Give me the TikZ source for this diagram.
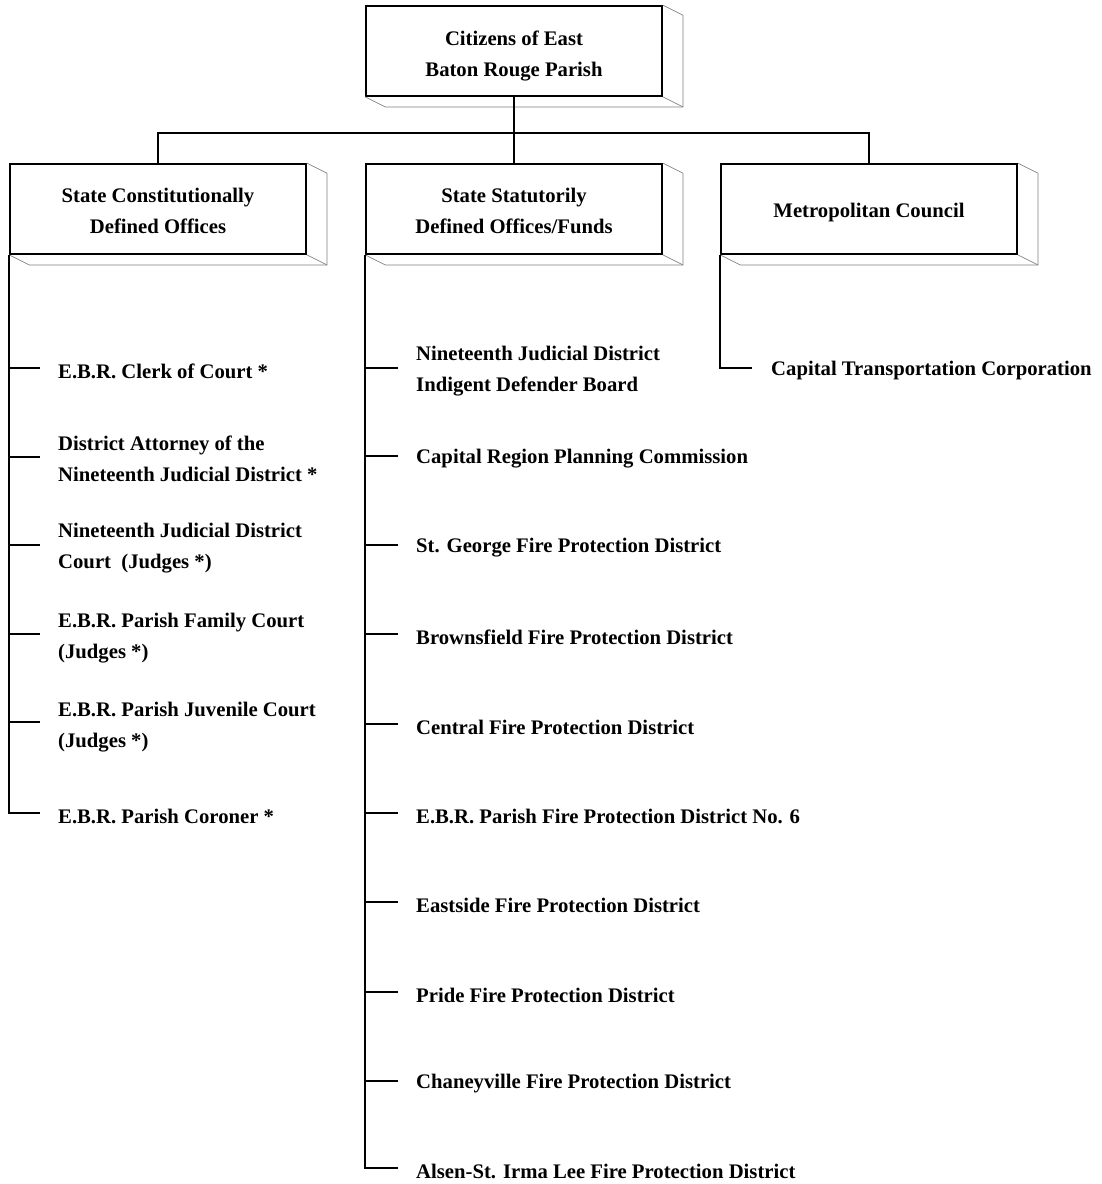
\documentclass[tikz,border=0pt]{standalone}
\usepackage{fontspec}
\setmainfont{Liberation Serif}
\newcommand\boxstrut[1]{\rule{0pt}{#1pt}}
\begin{document}
\begin{tikzpicture}[x=1pt,y=-1pt,
  txt/.style={font=\fontsize{20.7}{31}\bfseries\selectfont},
  lbl/.style={txt, inner sep=0pt, anchor=west, align=left, yshift=-3pt},
  boxf/.style={txt, draw, line width=1.8pt, minimum width=296pt, minimum height=90pt, align=center, inner sep=0pt, fill=white},
  depth/.style={draw=black!50, line width=0.7pt},
  conn/.style={line width=1.7pt}]
\useasboundingbox (0,0) rectangle (1102,1184);
% boxes
\node[boxf] (top) at (514,51) {\boxstrut{24}Citizens of East\\Baton Rouge Parish};
\node[boxf] (left) at (158,209) {\boxstrut{18}State Constitutionally\\Defined Offices};
\node[boxf] (mid) at (514,209) {\boxstrut{18}State Statutorily\\Defined Offices/Funds};
\node[boxf] (right) at (869,209) {\boxstrut{22}Metropolitan Council};
\foreach \b in {top,left,mid,right}{
  \draw[depth] (\b.north east) -- ++(20,10) -- ([shift={(20,10)}]\b.south east) -- ([shift={(20,10)}]\b.south west) -- (\b.south west);
  \draw[depth] (\b.south east) -- ([shift={(20,10)}]\b.south east);
}
% top connectors
\coordinate (bar) at (514,133);
\draw[conn] (top.south) -- (bar);
\draw[conn] (left.north) |- (bar) -| (right.north);
\draw[conn] (bar) -- (mid.north);
% left column
\node[lbl] (l1) at (58,368) {E.B.R. Clerk of Court *};
\node[lbl] (l2) at (58,456) {District Attorney of the\\Nineteenth Judicial District *};
\node[lbl] (l3) at (58,545) {Nineteenth Judicial District\\Court\ \ (Judges *)};
\node[lbl] (l4) at (58,635) {E.B.R. Parish Family Court\\(Judges *)};
\node[lbl] (l5) at (58,724) {E.B.R. Parish Juvenile Court\\(Judges *)};
\node[lbl] (l6) at (58,813) {E.B.R. Parish Coroner *};
\foreach \i/\y in {1/368,2/457,3/545,4/634,5/722,6/813}{
  \coordinate (lt\i) at (40,\y);
}
\draw[conn] (left.south west) |- (lt6);
\foreach \i in {1,...,5}{
  \draw[conn] (left.south west |- lt\i) -- (lt\i);
}
% middle column
\node[lbl] (m1) at (416,368) {Nineteenth Judicial District\\Indigent Defender Board};
\node[lbl] (m2) at (416,456) {Capital Region Planning Commission};
\node[lbl] (m3) at (416,545) {St. George Fire Protection District};
\node[lbl] (m4) at (416,634) {Brownsfield Fire Protection District};
\node[lbl] (m5) at (416,724) {Central Fire Protection District};
\node[lbl] (m6) at (416,813) {E.B.R. Parish Fire Protection District No. 6};
\node[lbl] (m7) at (416,902) {Eastside Fire Protection District};
\node[lbl] (m8) at (416,992) {Pride Fire Protection District};
\node[lbl] (m9) at (416,1081) {Chaneyville Fire Protection District};
\node[lbl] (m10) at (416,1168) {Alsen-St. Irma Lee Fire Protection District};
\foreach \i/\y in {1/368,2/456,3/545,4/634,5/724,6/813,7/902,8/992,9/1081,10/1168}{
  \coordinate (mt\i) at (398,\y);
}
\draw[conn] (mid.south west) |- (mt10);
\foreach \i in {1,...,9}{
  \draw[conn] (mid.south west |- mt\i) -- (mt\i);
}
% right column
\node[lbl] (r1) at (771,368) {Capital Transportation Corporation};
\coordinate (rt1) at (752,368);
\draw[conn] (right.south west) |- (rt1);
\end{tikzpicture}
\end{document}
